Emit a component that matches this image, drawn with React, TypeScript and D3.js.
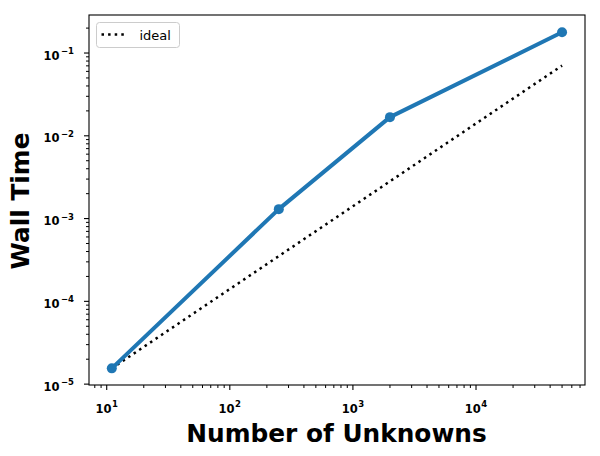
import React from "react";
import * as d3 from "d3";

const unknowns = [11, 250, 2000, 50000];
const wallTime = [1.55e-5, 1.3e-3, 1.68e-2, 0.178];
const idealTime = unknowns.map((n) => wallTime[0] * (n / unknowns[0]));
const xMajor = [1, 2, 3, 4];
const yMajor = [-5, -4, -3, -2, -1];

const W = 600, H = 456;
const L = 89, R = 585, T = 15, B = 385;
const FONT = "DejaVu Sans, sans-serif";

export default function App() {
  const x = d3.scaleLog().domain([7.18, 76800]).range([L, R]);
  const y = d3.scaleLog().domain([9.76e-6, 0.288]).range([B, T]);

  const xMinor: number[] = [];
  for (let e = 0; e <= 4; e++) for (let m = 2; m <= 9; m++) {
    const v = m * Math.pow(10, e);
    if (v >= x.domain()[0] && v <= x.domain()[1]) xMinor.push(v);
  }
  const yMinor: number[] = [];
  for (let e = -6; e <= -1; e++) for (let m = 2; m <= 9; m++) {
    const v = m * Math.pow(10, e);
    if (v >= y.domain()[0] && v <= y.domain()[1]) yMinor.push(v);
  }

  const line = d3.line<number>().x((_, i) => x(unknowns[i])).y((d) => y(d));

  return (
    <svg width={W} height={H} style={{ position: "absolute", left: 0, top: 0 }}>
      <rect x={0} y={0} width={W} height={H} fill="white" />
      {/* ideal */}
      <path d={line(idealTime) || ""} fill="none" stroke="black" strokeWidth={2.5} strokeDasharray="2.5 4.1" />
      {/* measured */}
      <path d={line(wallTime) || ""} fill="none" stroke="#1f77b4" strokeWidth={4} strokeLinejoin="round" />
      {wallTime.map((v, i) => (
        <circle key={i} cx={x(unknowns[i])} cy={y(v)} r={5} fill="#1f77b4" />
      ))}
      {/* frame */}
      <rect x={L} y={T} width={R - L} height={B - T} fill="none" stroke="black" strokeWidth={1.1} />
      {/* x ticks */}
      {xMajor.map((e) => (
        <g key={"xM" + e}>
          <line x1={x(Math.pow(10, e))} x2={x(Math.pow(10, e))} y1={B} y2={B + 5} stroke="black" strokeWidth={1.1} />
          <text x={x(Math.pow(10, e))} y={B + 27.5} textAnchor="middle" fontFamily={FONT} fontWeight="bold" fontSize={11.5}>
            10<tspan dx={0.5} dy={-5.5} fontSize={8.5}>{e}</tspan>
          </text>
        </g>
      ))}
      {xMinor.map((v, i) => (
        <line key={"xm" + i} x1={x(v)} x2={x(v)} y1={B} y2={B + 3} stroke="black" strokeWidth={1} />
      ))}
      {/* y ticks */}
      {yMajor.map((e) => (
        <g key={"yM" + e}>
          <line x1={L - 5} x2={L} y1={y(Math.pow(10, e))} y2={y(Math.pow(10, e))} stroke="black" strokeWidth={1.1} />
          <text x={L - 15} y={y(Math.pow(10, e)) + 6.5} textAnchor="end" fontFamily={FONT} fontWeight="bold" fontSize={11.5}>
            10<tspan dx={1.5} dy={-5.5} fontSize={8.5}>{"\u2212" + Math.abs(e)}</tspan>
          </text>
        </g>
      ))}
      {yMinor.map((v, i) => (
        <line key={"ym" + i} x1={L - 3} x2={L} y1={y(v)} y2={y(v)} stroke="black" strokeWidth={1} />
      ))}
      {/* axis labels */}
      <text x={(L + R) / 2 - 0.5} y={442} textAnchor="middle" fontFamily={FONT} fontWeight="bold" fontSize={24.8}>
        Number of Unknowns
      </text>
      <text transform={`translate(29,${(T + B) / 2 + 1}) rotate(-90)`} textAnchor="middle" fontFamily={FONT} fontWeight="bold" fontSize={24.8}>
        Wall Time
      </text>
      {/* legend */}
      <rect x={96.5} y={22.5} width={83} height={25} rx={3} fill="white" fillOpacity={0.8} stroke="#cccccc" strokeWidth={1} />
      <line x1={101.5} x2={127} y1={34.5} y2={34.5} stroke="black" strokeWidth={2.5} strokeDasharray="2.5 4.1" />
      <text x={139.5} y={39.5} fontFamily={FONT} fontSize={13}>ideal</text>
    </svg>
  );
}
